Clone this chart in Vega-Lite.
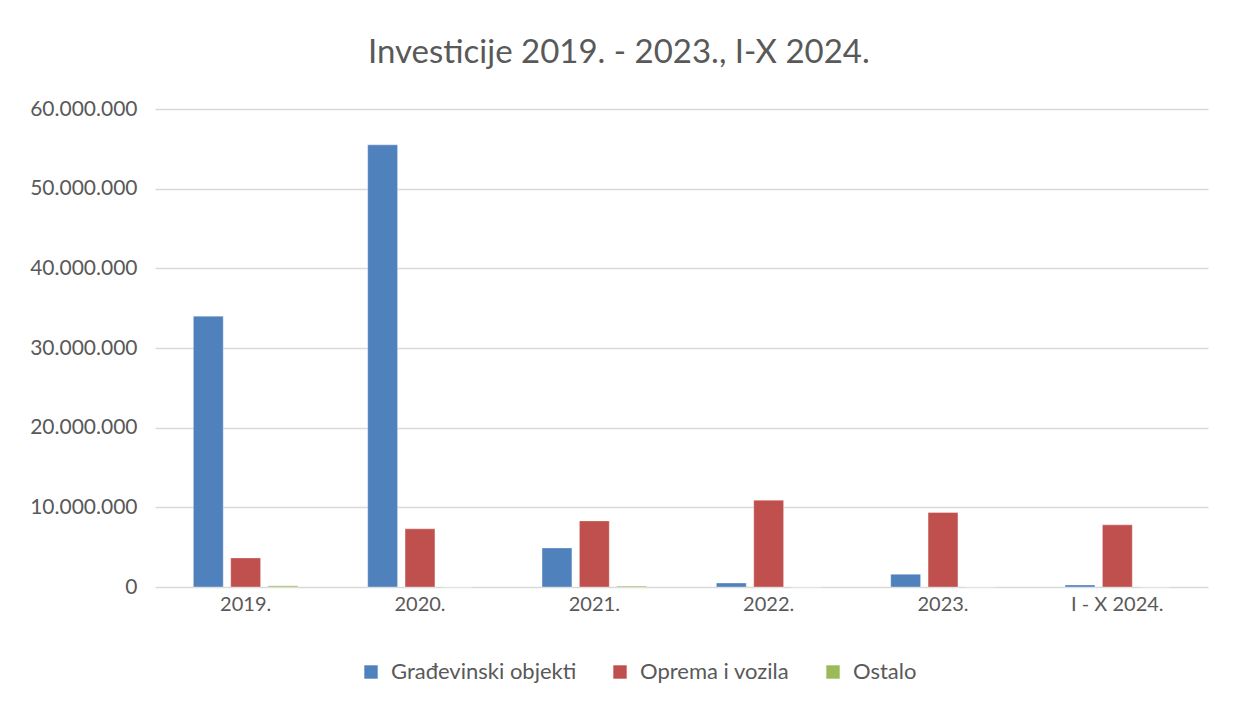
{
  "$schema": "https://vega.github.io/schema/vega-lite/v6.json",
  "width": 1053,
  "height": 478,
  "autosize": {"type": "none"},
  "padding": {"left": 155, "top": 109, "right": 25, "bottom": 115},
  "background": "white",
  "title": {
    "text": "Investicije 2019. - 2023., I-X 2024.",
    "font": "Lato",
    "fontSize": 33,
    "fontWeight": "normal",
    "color": "#595959",
    "anchor": "middle",
    "frame": "bounds",
    "offset": 28
  },
  "config": {
    "locale": {"number": {"decimal": ",", "thousands": ".", "grouping": [3], "currency": ["", ""]}},
    "view": {"stroke": null},
    "font": "Lato"
  },
  "data": {
    "values": [
      {"godina": "2019.", "vrsta": "Građevinski objekti", "iznos": 34000000},
      {"godina": "2019.", "vrsta": "Oprema i vozila", "iznos": 3650000},
      {"godina": "2019.", "vrsta": "Ostalo", "iznos": 150000},
      {"godina": "2020.", "vrsta": "Građevinski objekti", "iznos": 55500000},
      {"godina": "2020.", "vrsta": "Oprema i vozila", "iznos": 7300000},
      {"godina": "2020.", "vrsta": "Ostalo", "iznos": 0},
      {"godina": "2021.", "vrsta": "Građevinski objekti", "iznos": 4900000},
      {"godina": "2021.", "vrsta": "Oprema i vozila", "iznos": 8300000},
      {"godina": "2021.", "vrsta": "Ostalo", "iznos": 120000},
      {"godina": "2022.", "vrsta": "Građevinski objekti", "iznos": 500000},
      {"godina": "2022.", "vrsta": "Oprema i vozila", "iznos": 10900000},
      {"godina": "2022.", "vrsta": "Ostalo", "iznos": 0},
      {"godina": "2023.", "vrsta": "Građevinski objekti", "iznos": 1600000},
      {"godina": "2023.", "vrsta": "Oprema i vozila", "iznos": 9350000},
      {"godina": "2023.", "vrsta": "Ostalo", "iznos": 0},
      {"godina": "I - X 2024.", "vrsta": "Građevinski objekti", "iznos": 250000},
      {"godina": "I - X 2024.", "vrsta": "Oprema i vozila", "iznos": 7800000},
      {"godina": "I - X 2024.", "vrsta": "Ostalo", "iznos": 0}
    ]
  },
  "mark": {"type": "bar", "stroke": "white", "strokeOpacity": 0.35, "strokeWidth": 1},
  "encoding": {
    "x": {
      "field": "godina",
      "type": "nominal",
      "sort": null,
      "scale": {"paddingInner": 0.4, "paddingOuter": 0.22},
      "axis": {
        "title": null,
        "labelAngle": 0,
        "labelFontSize": 20,
        "labelColor": "#595959",
        "labelPadding": 7,
        "ticks": false,
        "domain": false
      }
    },
    "xOffset": {
      "field": "vrsta",
      "type": "nominal",
      "sort": ["Građevinski objekti", "Oprema i vozila", "Ostalo"],
      "scale": {"paddingInner": 0.2, "paddingOuter": 0}
    },
    "y": {
      "field": "iznos",
      "type": "quantitative",
      "scale": {"domain": [0, 60000000], "nice": false},
      "axis": {
        "title": null,
        "values": [0, 10000000, 20000000, 30000000, 40000000, 50000000, 60000000],
        "format": ",d",
        "labelFontSize": 21,
        "labelColor": "#595959",
        "labelPadding": 18,
        "ticks": false,
        "domain": false,
        "gridColor": "#d9d9d9",
        "gridWidth": 1.5
      }
    },
    "color": {
      "field": "vrsta",
      "type": "nominal",
      "sort": ["Građevinski objekti", "Oprema i vozila", "Ostalo"],
      "scale": {
        "domain": ["Građevinski objekti", "Oprema i vozila", "Ostalo"],
        "range": ["#4F81BD", "#C0504D", "#9BBB59"]
      },
      "legend": {
        "title": null,
        "orient": "none",
        "legendX": 205,
        "legendY": 552,
        "padding": 0,
        "direction": "horizontal",
        "symbolType": "square",
        "symbolSize": 180,
        "symbolStrokeWidth": 0,
        "labelFontSize": 22,
        "labelLimit": 400,
        "labelOffset": 9,
        "labelColor": "#595959",
        "columnPadding": 32
      }
    }
  }
}
